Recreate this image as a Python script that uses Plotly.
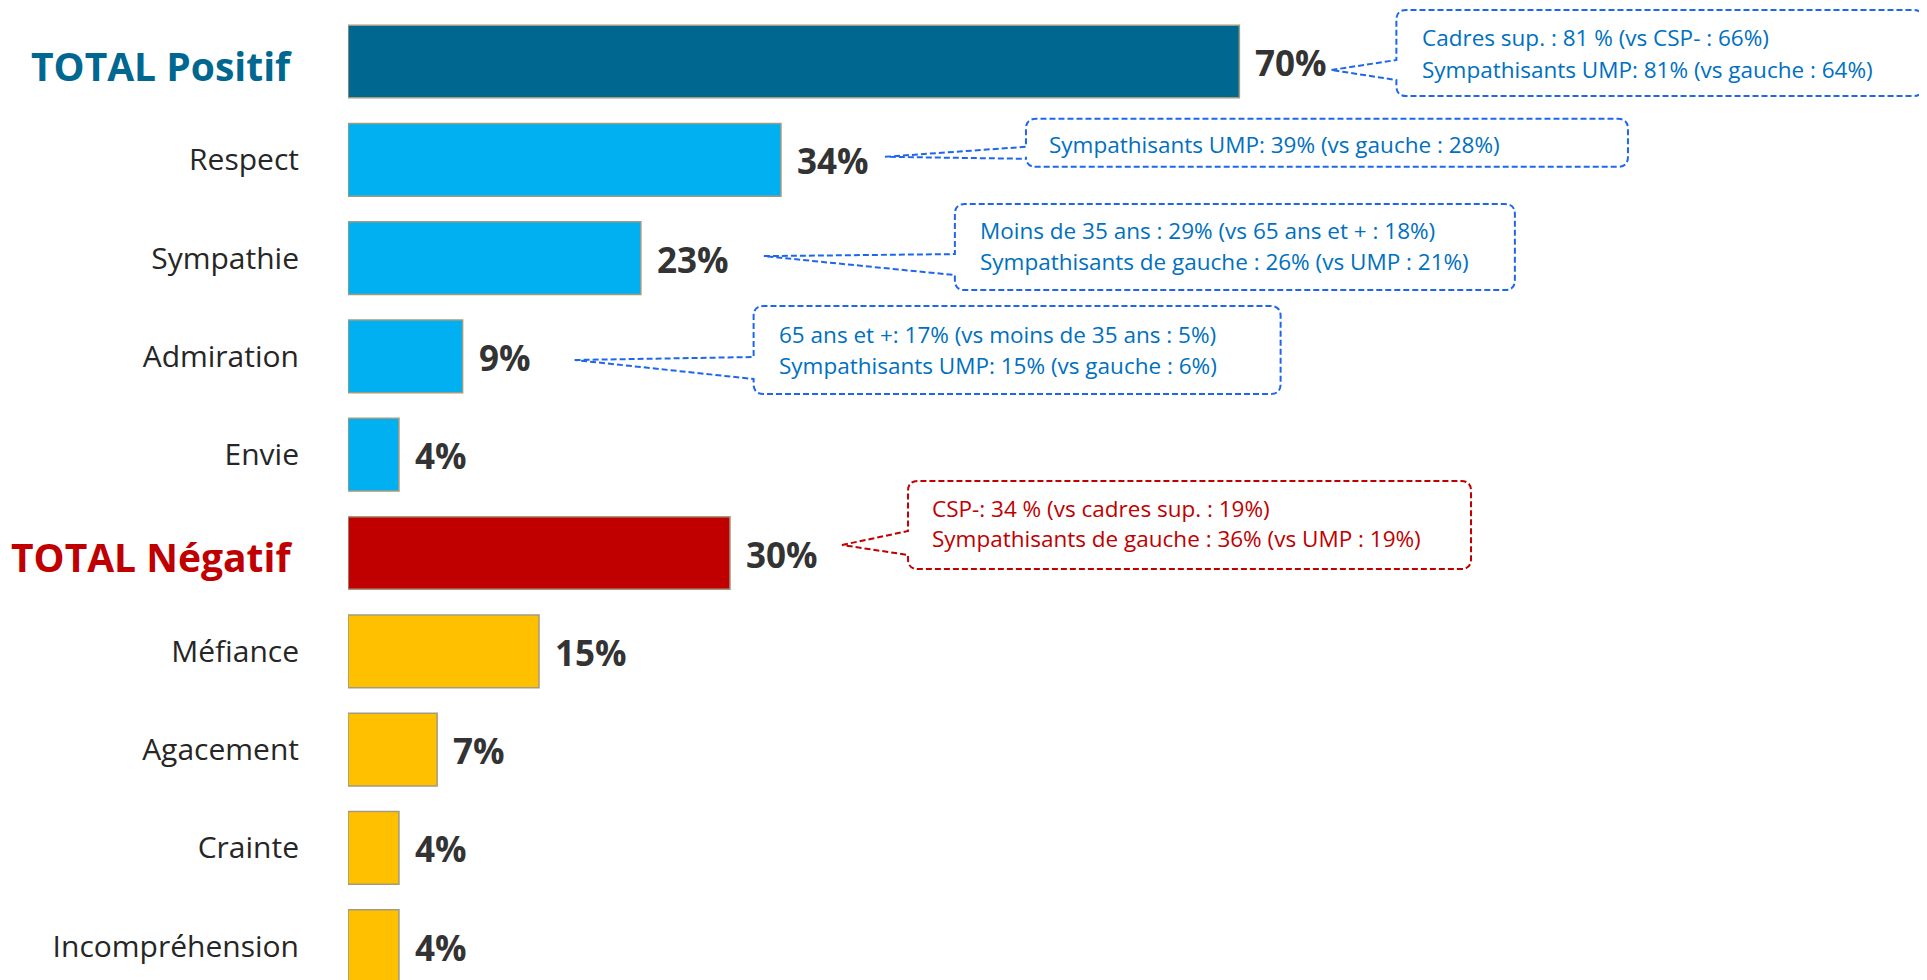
import plotly.graph_objects as go

# données
categories = ["TOTAL Positif", "Respect", "Sympathie", "Admiration", "Envie",
              "TOTAL Négatif", "Méfiance", "Agacement", "Crainte", "Incompréhension"]
values = [70, 34, 23, 9, 4, 30, 15, 7, 4, 4]
bar_colors = ["#006890", "#00B0F0", "#00B0F0", "#00B0F0", "#00B0F0",
              "#C00000", "#FFC000", "#FFC000", "#FFC000", "#FFC000"]
total_colors = {"TOTAL Positif": "#006890", "TOTAL Négatif": "#C00000"}

callout_rows = ["TOTAL Positif", "Respect", "Sympathie", "Admiration", "TOTAL Négatif"]
callout_texts = [
    ["Cadres sup. : 81 % (vs CSP- : 66%)", "Sympathisants UMP: 81% (vs gauche : 64%)"],
    ["Sympathisants UMP: 39% (vs gauche : 28%)"],
    ["Moins de 35 ans : 29% (vs 65 ans et + : 18%)", "Sympathisants de gauche : 26% (vs UMP : 21%)"],
    ["65 ans et +: 17% (vs moins de 35 ans : 5%)", "Sympathisants UMP: 15% (vs gauche : 6%)"],
    ["CSP-: 34 % (vs cadres sup. : 19%)", "Sympathisants de gauche : 36% (vs UMP : 19%)"],
]

# mise en page (pixels de la figure ; la page ajoute 8px de marge)
W, H = 1919, 972
ML = 340
ROW0 = 53.5      # centre de la 1re ligne
ROW_H = 98.3     # pas entre lignes
PX_PER = 12.734  # pixels par point de %
X_MAX = (W - ML) / PX_PER
Y_TOP = -ROW0 / ROW_H
Y_BOT = Y_TOP + H / ROW_H

BLUE_LINE, BLUE_TEXT = "#1F66EE", "#0070C0"
RED_LINE, RED_TEXT = "#C00000", "#C00000"

# géométrie des bulles : pointe (dx depuis la fin de barre, dy depuis le centre de la ligne),
# puis boîte relative à la pointe : gauche, droite, haut, bas, jonctions, texte
callout_geom = [
    dict(dx=92, dy=8.5, l=65, r=592, t=-60, b=26, j1=-10, j2=10, tx=89, ty=[-33, -1], c="blue"),
    dict(dx=104, dy=-3, l=141, r=743, t=-38, b=10, j1=-10, j2=2, tx=162, ty=[-12], c="blue"),
    dict(dx=123, dy=-2, l=191, r=751, t=-52, b=34, j1=-2, j2=19, tx=214, ty=[-26, 5], c="blue"),
    dict(dx=112, dy=3.6, l=179, r=706, t=-54, b=34, j1=-3, j2=19, tx=202, ty=[-26, 5], c="blue"),
    dict(dx=112, dy=-8, l=66, r=629, t=-64, b=24, j1=-14, j2=10, tx=88, ty=[-37, -7], c="red"),
]


def dx_(px):
    return (px - ML) / PX_PER


def dy_(py):
    return Y_TOP + py / ROW_H


def P(px, py):
    return f"{dx_(px):.4f},{dy_(py):.5f}"


fig = go.Figure()
fig.add_trace(go.Bar(
    x=values,
    y=list(range(len(categories))),
    orientation="h",
    width=0.74,
    marker=dict(color=bar_colors, line=dict(color="#A39B80", width=1.5)),
    hoverinfo="skip",
))

# étiquettes de valeur
for i, v in enumerate(values):
    fig.add_annotation(
        x=v, y=i, xref="x", yref="y", text=f"{v}%", showarrow=False,
        xanchor="left", yanchor="middle", xshift=14, yshift=-1,
        font=dict(family="Open Sans", size=35, color="#333333", weight="bold"),
    )

# libellés TOTAL (plus grands, en couleur)
for c, col in total_colors.items():
    fig.add_annotation(
        x=0, y=categories.index(c), xref="x", yref="y", text=c, showarrow=False,
        xanchor="right", yanchor="middle", xshift=-54, yshift=-3.5,
        font=dict(family="Open Sans", size=39, color=col, weight="bold"),
    )

# bulles
for row, lines, g in zip(callout_rows, callout_texts, callout_geom):
    i = categories.index(row)
    tipx = ML + values[i] * PX_PER + g["dx"]
    tipy = ROW0 + i * ROW_H + g["dy"]
    l, rt = tipx + g["l"], tipx + g["r"]
    t, b = tipy + g["t"], tipy + g["b"]
    r = 10
    path = (f"M {P(tipx, tipy)} L {P(l, tipy + g['j1'])} L {P(l, t + r)} Q {P(l, t)} {P(l + r, t)} "
            f"L {P(rt - r, t)} Q {P(rt, t)} {P(rt, t + r)} L {P(rt, b - r)} Q {P(rt, b)} {P(rt - r, b)} "
            f"L {P(l + r, b)} Q {P(l, b)} {P(l, b - r)} L {P(l, tipy + g['j2'])} Z")
    lc = BLUE_LINE if g["c"] == "blue" else RED_LINE
    tc = BLUE_TEXT if g["c"] == "blue" else RED_TEXT
    fig.add_shape(type="path", path=path, xref="x", yref="y",
                  line=dict(color=lc, width=2, dash="6px,3px"), fillcolor="rgba(0,0,0,0)")
    for txt, oy in zip(lines, g["ty"]):
        fig.add_annotation(
            x=dx_(tipx + g["tx"]), y=dy_(tipy + oy), xref="x", yref="y",
            text=txt, showarrow=False, xanchor="left", yanchor="middle",
            font=dict(family="Open Sans", size=22.5, color=tc),
        )

ticktext = ["" if c in total_colors else c for c in categories]

fig.update_layout(
    width=W, height=H,
    margin=dict(l=ML, r=0, t=0, b=0),
    plot_bgcolor="white", paper_bgcolor="white",
    showlegend=False,
    font=dict(family="Open Sans", color="#262626"),
    xaxis=dict(range=[0, X_MAX], visible=False, fixedrange=True),
    yaxis=dict(
        range=[Y_BOT, Y_TOP], tickvals=list(range(len(categories))), ticktext=ticktext,
        showgrid=False, zeroline=False, showline=False, ticks="",
        tickfont=dict(family="Open Sans", size=30, color="#262626"),
        ticklabelstandoff=48,
    ),
)

fig.write_html("out.html")
